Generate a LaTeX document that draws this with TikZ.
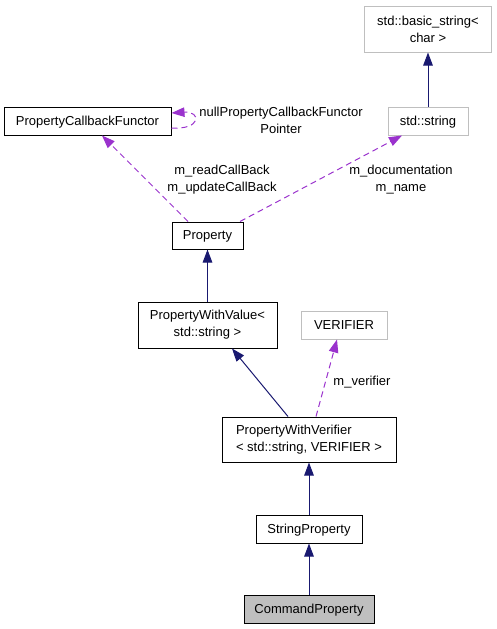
\documentclass[tikz,border=0pt]{standalone}
\usepackage{fontspec}
\setmainfont{Liberation Sans}
\usetikzlibrary{arrows.meta}
\definecolor{nv}{HTML}{191970}
\definecolor{pu}{HTML}{9A32CD}
\definecolor{gr}{HTML}{BFBFBF}

\begin{document}
\begin{tikzpicture}[x=1pt,y=-1pt]
            \tikzstyle{every node}=[font=\fontsize{13}{17}\selectfont,inner sep=0pt,align=center]
            \tikzstyle{cls}=[draw=black,line width=1pt,minimum height=28pt]
            \tikzstyle{ext}=[draw=gr,line width=1pt,minimum height=28pt]
            \tikzstyle{one}=[text height=10pt,text depth=1.5pt]
            \tikzstyle{inh}=[nv,line width=1pt,-{Triangle[length=13pt,width=9.5pt]}]
            \tikzstyle{use}=[pu,line width=1pt,dash pattern=on 6pt off 4pt,-{Triangle[length=13pt,width=9.5pt]}]
            \useasboundingbox (0,0) rectangle (496,629);
            \node[ext,minimum width=127pt,minimum height=46pt] (bs) at (428,29) {std::basic\_string<\\char >};
            \node[cls,one,minimum width=167pt] (pcf) at (87.5,121) {PropertyCallbackFunctor};
            \node[ext,one,minimum width=80pt] (str) at (428,121) {std::string};
            \node[cls,one,minimum width=71pt,minimum height=27pt] (prop) at (207.5,235.5) {Property};
            \node[cls,minimum width=139pt,minimum height=46pt] (pwval) at (207.5,325) {PropertyWithValue<\\std::string >};
            \node[ext,one,minimum width=86pt] (ver) at (344,325) {VERIFIER};
            \node[cls,minimum width=174pt,minimum height=45pt,align=left] (pwver) at (309,439.5) {PropertyWithVerifier\\< std::string, VERIFIER >};
            \node[cls,one,minimum width=106pt] (sp) at (309,529) {StringProperty};
            \node[cls,one,minimum width=130pt,fill=gr] (cp) at (309,609) {CommandProperty};
            \draw[inh] (str) -- (bs);
            \draw[inh] (pwval) -- (prop);
            \draw[inh] ([xshift=-21pt]pwver.north) -- ([xshift=24.5pt]pwval.south);
            \draw[inh] (sp) -- (pwver);
            \draw[inh] (cp) -- (sp);
            \draw[use] ([yshift=-7pt]pcf.east) .. controls +(30,2) and +(30,-2) .. ([yshift=8pt]pcf.east);
            \draw[use] ([xshift=-19.5pt]prop.north) -- ([xshift=14.5pt]pcf.south);
            \draw[use] ([xshift=32.5pt]prop.north) -- ([xshift=-26pt]str.south);
            \draw[use] ([xshift=7pt]pwver.north) -- ([xshift=-7pt]ver.south);
            \node (lnull) at (281,120) {nullPropertyCallbackFunctor\\Pointer};
            \node (lcb) at (222,179.5) {m\_readCallBack\\m\_updateCallBack};
            \node (ldoc) at (401,179.5) {m\_documentation\\m\_name};
            \node (lver) at (362,382) {m\_verifier};
          \end{tikzpicture}
\end{document}
